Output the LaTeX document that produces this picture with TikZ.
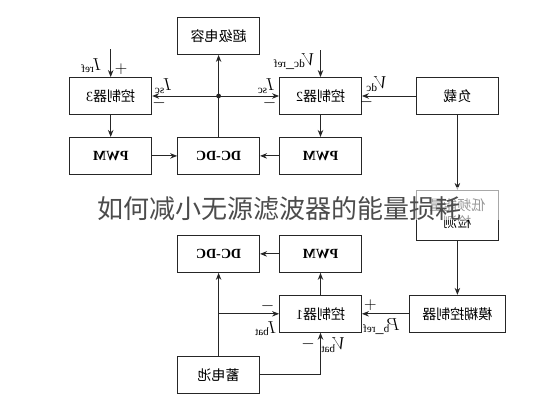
\documentclass[tikz,border=0pt]{standalone}
\usepackage{fontspec}
\usepackage{graphicx}
\setmainfont{Liberation Serif}
\newfontfamily\cjk{Noto Sans CJK SC}
\usepackage{tikz}
\usetikzlibrary{shapes,arrows.meta,positioning}
\newcommand{\mirr}[1]{\reflectbox{#1}}
\newcommand{\zh}[1]{{\cjk #1}}
\tikzset{
  every node/.style={
    font=\fontsize{14}{17}\selectfont
  },
  block/.style={
    shape=rectangle,
    draw=black!85,
    line width=0.9pt,
    minimum width=82pt,
    minimum height=37pt,
    inner sep=2pt
  },
  wide block/.style={
    block,
    minimum width=96pt
  },
  sig/.style={
    draw=black!85,
    line width=0.9pt,
    -{Stealth[length=7pt,width=5.5pt]}
  },
  lbl/.style={
    inner sep=0pt,
    font=\fontsize{16}{18}\selectfont
  },
  watermark/.style={
    inner sep=0pt,
    text=black!70,
    font=\cjk\fontsize{26}{30}\selectfont
  }
}

\begin{document}
\begin{tikzpicture}[x=1pt,y=1pt]
    \useasboundingbox (0,0) rectangle (558,-400);
    % upper part: super capacitor side
    \node [block] (ctrlB) at (320.5,-96) {\mirr{\zh{控制器}2}};
    \node [block, below=22pt of ctrlB] (pwmB) {\mirr{\bfseries PWM}};
    \node [block, left=19pt of pwmB] (dcdcA) {\mirr{\bfseries DC-DC}};
    \node [block, left=25pt of dcdcA] (pwmC) {\mirr{\bfseries PWM}};
    \node [block, above=22pt of pwmC] (ctrlC) {\mirr{\zh{控制器}3}};
    \node [block, above=82pt of dcdcA] (cap) {\mirr{\zh{超级电容}}};
    \node [block, right=54pt of ctrlB] (load) {\mirr{\zh{负载}}};
    % lower part: battery side
    \node [block, minimum height=50pt, below=75pt of load] (lf) {
      \mirr{\begin{tabular}{@{}c@{}}\zh{低频能量}\\\zh{检测}\end{tabular}}
    };
    \node [wide block, below=54pt of lf] (fuzzy) {\mirr{\zh{模糊控制器}}};
    \node [block, left=47pt of fuzzy] (ctrlA) {\mirr{\zh{控制器}1}};
    \node [block, above=22pt of ctrlA] (pwmA) {\mirr{\bfseries PWM}};
    \node [block, left=19pt of pwmA] (dcdcB) {\mirr{\bfseries DC-DC}};
    \node [block, below=83pt of dcdcB] (bat) {\mirr{\zh{蓄电池}}};

    \coordinate (jA) at (dcdcA |- ctrlC);
    \coordinate (jB) at (dcdcB |- ctrlA);
    \coordinate (irefIn) at ([yshift=28pt]ctrlC.north);
    \coordinate (vrefIn) at ([yshift=27pt]ctrlB.north);

    \fill [black!85] (jA) circle (2.4pt);
    \draw [sig, {Stealth[length=7pt,width=5.5pt]}-] (cap) -- (dcdcA);
    \draw [sig] (jA) -- (ctrlC);
    \draw [sig] (jA) -- (ctrlB);
    \draw [sig] (load) -- (ctrlB);
    \draw [sig] (irefIn) -- (ctrlC);
    \draw [sig] (vrefIn) -- (ctrlB);
    \draw [sig] (ctrlC) -- (pwmC);
    \draw [sig] (ctrlB) -- (pwmB);
    \draw [sig] (pwmC) -- (dcdcA);
    \draw [sig] (pwmB) -- (dcdcA);
    \draw [sig] (load) -- (lf);
    \draw [sig] (lf) -- (fuzzy);
    \draw [sig] (fuzzy) -- (ctrlA);
    \draw [sig] (ctrlA) -- (pwmA);
    \draw [sig] (pwmA) -- (dcdcB);
    \draw [sig, {Stealth[length=7pt,width=5.5pt]}-] (dcdcB) -- (bat);
    \draw [sig] (jB) -- (ctrlA);
    \draw [sig] (bat) -| (ctrlA);

    % signal labels
    \node [lbl] (iscC) at ([shift={(11,10)}]ctrlC.east) {\mirr{$I_{\mathrm{sc}}$}};
    \node [lbl] (mC) at ([shift={(7,-7)}]ctrlC.east) {$-$};
    \node [lbl] (iscB) at ([shift={(-13,10)}]ctrlB.west) {\mirr{$I_{\mathrm{sc}}$}};
    \node [lbl] (mB) at ([shift={(-9.5,-7)}]ctrlB.west) {$-$};
    \node [lbl] (iref) at ([shift={(-19.5,11.5)}]ctrlC.north) {\mirr{$I_{\mathrm{ref}}$}};
    \node [lbl] (pC) at ([shift={(10.5,7.5)}]ctrlC.north) {$+$};
    \node [lbl] (vref) at ([shift={(-26.5,15.5)}]ctrlB.north) {\mirr{$V_{\mathrm{dc\_ref}}$}};
    \node [lbl] (vdc) at ([shift={(14.5,12)}]ctrlB.east) {\mirr{$V_{\mathrm{dc}}$}};
    \node [lbl] (mD) at ([shift={(4.5,-6)}]ctrlB.east) {$-$};
    \node [lbl] (mA) at ([shift={(-11.5,8)}]ctrlA.west) {$-$};
    \node [lbl] (ibat) at ([shift={(-13.5,-15)}]ctrlA.west) {\mirr{$I_{\mathrm{bat}}$}};
    \node [lbl] (mV) at ([shift={(-12.5,-11.5)}]ctrlA.south) {$-$};
    \node [lbl] (vbat) at ([shift={(12.5,-12.5)}]ctrlA.south) {\mirr{$V_{\mathrm{bat}}$}};
    \node [lbl] (pA) at ([shift={(8.5,9)}]ctrlA.east) {$+$};
    \node [lbl] (pref) at ([shift={(19.5,-13)}]ctrlA.east) {\mirr{$P_{\mathrm{b\_ref}}$}};

    % overlaid caption
    \fill [white, opacity=0.6] (92,-187) rectangle (506,-220);
    \node [watermark, anchor=west] (wm) at (97,-209) {如何减小无源滤波器的能量损耗};
\end{tikzpicture}
\end{document}
